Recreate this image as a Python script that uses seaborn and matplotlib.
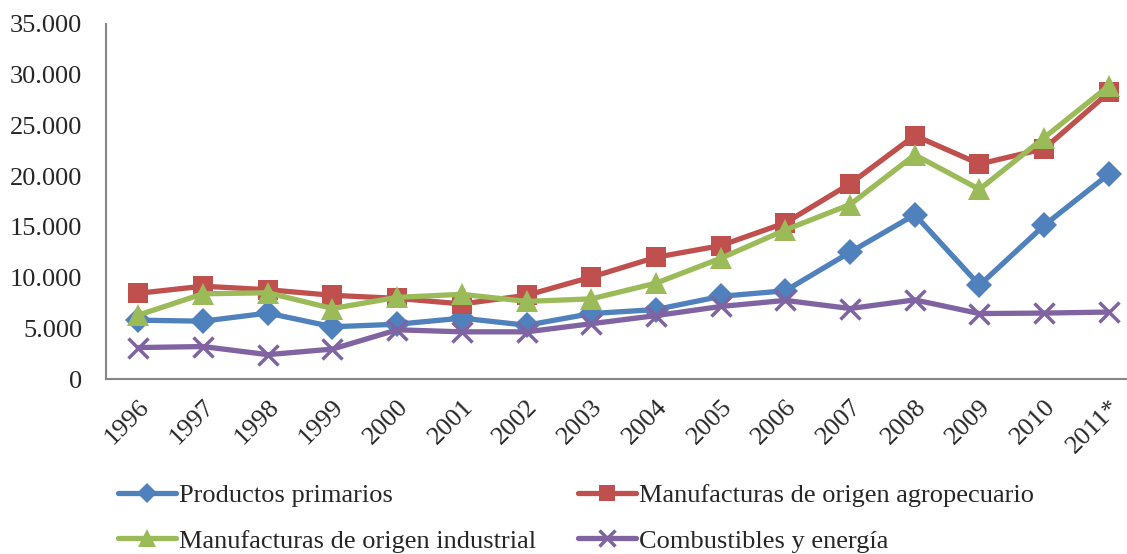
import matplotlib
matplotlib.use("Agg")
import matplotlib.pyplot as plt
import matplotlib.ticker as mticker
import seaborn as sns
import pandas as pd

years = ["1996", "1997", "1998", "1999", "2000", "2001", "2002", "2003",
         "2004", "2005", "2006", "2007", "2008", "2009", "2010", "2011*"]

primarios = [5800, 5700, 6500, 5150, 5400, 6000, 5300, 6450,
             6850, 8150, 8700, 12500, 16200, 9250, 15150, 20200]
agro = [8450, 9150, 8800, 8250, 7950, 7400, 8250, 10050,
        12000, 13150, 15400, 19250, 24000, 21200, 22700, 28250]
industrial = [6300, 8400, 8500, 6950, 8050, 8350, 7650, 7900,
              9450, 11900, 14700, 17200, 22100, 18700, 23800, 28900]
combustibles = [3100, 3200, 2400, 2950, 4850, 4650, 4650, 5450,
                6250, 7150, 7750, 6950, 7800, 6450, 6500, 6600]

names = ["Productos primarios", "Manufacturas de origen agropecuario",
         "Manufacturas de origen industrial", "Combustibles y energía"]
colors = ["#4F81BD", "#C0504D", "#9BBB59", "#8064A2"]
markers = ["D", "s", "^", "x"]
msizes = [13, 15, 16, 15]

df = pd.DataFrame({"year": years, names[0]: primarios, names[1]: agro,
                   names[2]: industrial, names[3]: combustibles})
long = df.melt(id_vars="year", var_name="serie", value_name="valor")
long["pos"] = long["year"].map({y: i for i, y in enumerate(years)})

sns.set_style("white")
plt.rcParams["font.family"] = ["Liberation Serif", "DejaVu Serif"]

fig = plt.figure(figsize=(11.27, 5.54), dpi=100)
ax = fig.add_axes([106 / 1127, 1 - 379 / 554, 1 - 106 / 1127, (379 - 24) / 554])

for name, c, m, ms in zip(names, colors, markers, msizes):
    sns.lineplot(data=long[long["serie"] == name], x="pos", y="valor", ax=ax,
                 color=c, marker=m, markersize=ms, linewidth=3.8,
                 markeredgewidth=2.5 if m == "x" else 0, markeredgecolor=c,
                 label=name, legend=False)

ax.set_xlim(-0.5, 15.28)
ax.set_ylim(0, 35000)
ax.set_yticks(range(0, 35001, 5000))
ax.yaxis.set_major_formatter(mticker.FuncFormatter(lambda v, p: f"{v:,.0f}".replace(",", ".")))
ax.set_xticks(range(len(years)))
ax.set_xticklabels(years, rotation=45, ha="right", rotation_mode="anchor")
ax.tick_params(axis="both", length=0, labelsize=19)
ax.tick_params(axis="y", pad=17)
ax.tick_params(axis="x", pad=12)
ax.set_xlabel("")
ax.set_ylabel("")
for s in ["top", "right"]:
    ax.spines[s].set_visible(False)
for s in ["left", "bottom"]:
    ax.spines[s].set_color("#868686")
    ax.spines[s].set_linewidth(1.5)

h, l = ax.get_legend_handles_labels()
order = [0, 2, 1, 3]
fig.legend([h[i] for i in order], [l[i] for i in order], ncol=2,
           loc="upper left", bbox_to_anchor=(118 / 1127, 1 - 484 / 554),
           frameon=False, fontsize=19, handlelength=2.2, handletextpad=0.1,
           columnspacing=1.6, labelspacing=0.82, markerscale=0.8,
           borderpad=0, borderaxespad=0)

fig.savefig("out.png", dpi=100)
